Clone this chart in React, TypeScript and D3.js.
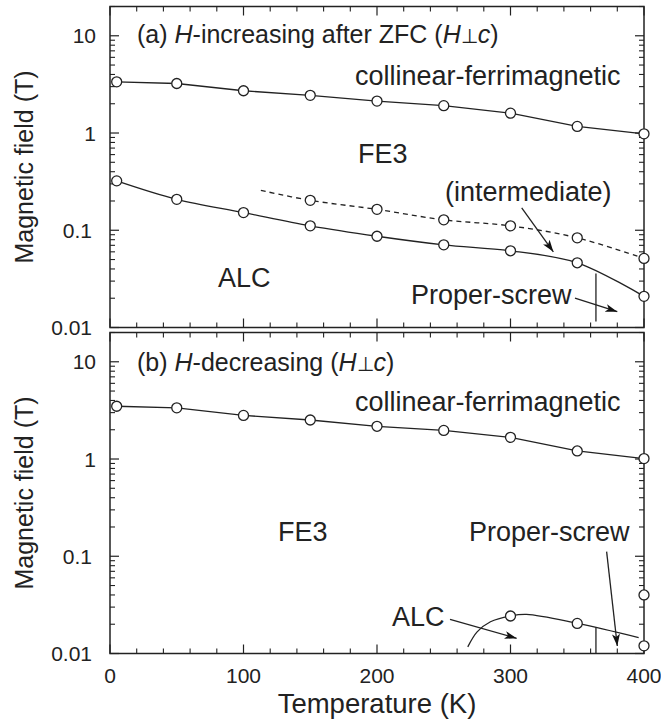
import * as d3 from 'd3'

// temperatures (K) and critical fields (T)
const tempA = [5, 50, 100, 150, 200, 250, 300, 350, 400]
const ferriA = [3.36, 3.23, 2.72, 2.44, 2.13, 1.91, 1.6, 1.17, 0.98]
const alcA = [0.322, 0.208, 0.152, 0.111, 0.0868, 0.0708, 0.0615, 0.0463, 0.0209]
const interT = [113, 150, 200, 250, 300, 350, 400]
const interA = [0.257, 0.203, 0.164, 0.128, 0.111, 0.0836, 0.0513]

const tempB = [5, 50, 100, 150, 200, 250, 300, 350, 400]
const ferriB = [3.49, 3.36, 2.81, 2.52, 2.17, 1.97, 1.67, 1.21, 1.01]
const alcCurveT = [268, 275, 285, 300, 312, 350, 396]
const alcCurveB = [0.0117, 0.0167, 0.0212, 0.0243, 0.0252, 0.0204, 0.0146]
const alcMarkT = [300, 350, 400, 400]
const alcMarkB = [0.0243, 0.0204, 0.012, 0.04]

const xTicks = [0, 100, 200, 300, 400]
const yTicks = [0.01, 0.1, 1, 10]
const yTickLabels = ['0.01', '0.1', '1', '10']

const W = 661
const H = 722
const left = 110
const right = 644
const font = '"Liberation Sans", Arial, Helvetica, sans-serif'

const x = d3.scaleLinear().domain([0, 400]).range([left, right])

type Pt = [number, number]
const zip = (a: number[], b: number[]): Pt[] => a.map((v, i) => [v, b[i]])

function Arrow({ y, from, to }: { y: d3.ScaleLogarithmic<number, number>; from: Pt; to: Pt }) {
  return (
    <line x1={x(from[0])} y1={y(from[1])} x2={x(to[0])} y2={y(to[1])}
      stroke="#222" strokeWidth={1.3} markerEnd="url(#head)" />
  )
}

function Frame({ y, top, bottom }: { y: d3.ScaleLogarithmic<number, number>; top: number; bottom: number }) {
  const minorX = d3.range(0, 401, 20).filter(t => t % 100 !== 0)
  const minorY: number[] = []
  for (const d of [0.01, 0.1, 1, 10]) for (let k = 2; k <= 9; k++) if (d * k <= 20) minorY.push(d * k)
  return (
    <g stroke="#222" fill="none">
      <rect x={left} y={top} width={right - left} height={bottom - top} strokeWidth={1.5} />
      {xTicks.map(t => (
        <g key={'M' + t} strokeWidth={1.2}>
          <line x1={x(t)} x2={x(t)} y1={bottom} y2={bottom - 9} />
          <line x1={x(t)} x2={x(t)} y1={top} y2={top + 9} />
        </g>
      ))}
      {minorX.map(t => (
        <g key={'m' + t} strokeWidth={1.1}>
          <line x1={x(t)} x2={x(t)} y1={bottom} y2={bottom - 5} />
          <line x1={x(t)} x2={x(t)} y1={top} y2={top + 5} />
        </g>
      ))}
      {yTicks.map(v => (
        <g key={'Y' + v} strokeWidth={1.2}>
          <line x1={left} x2={left + 9} y1={y(v)} y2={y(v)} />
          <line x1={right} x2={right - 9} y1={y(v)} y2={y(v)} />
        </g>
      ))}
      {minorY.map(v => (
        <g key={'y' + v} strokeWidth={1.1}>
          <line x1={left} x2={left + 5} y1={y(v)} y2={y(v)} />
          <line x1={right} x2={right - 5} y1={y(v)} y2={y(v)} />
        </g>
      ))}
    </g>
  )
}

function YLabels({ y, top, bottom }: { y: d3.ScaleLogarithmic<number, number>; top: number; bottom: number }) {
  return (
    <g fontFamily={font} fill="#222">
      {yTicks.map((v, i) => (
        <text key={v} x={v < 1 ? 92 : 96} y={y(v)} dy="0.36em" textAnchor="end" fontSize={21}>{yTickLabels[i]}</text>
      ))}
      <text transform={`translate(33,${(top + bottom) / 2}) rotate(-90)`} textAnchor="middle" fontSize={25}>
        Magnetic field (T)
      </text>
    </g>
  )
}

function Marks({ y, pts }: { y: d3.ScaleLogarithmic<number, number>; pts: Pt[] }) {
  return (
    <g fill="#fff" stroke="#222" strokeWidth={1.3}>
      {pts.map((p, i) => <circle key={i} cx={x(p[0])} cy={y(p[1])} r={5} />)}
    </g>
  )
}

export default function App() {
  const topA = 6.5, botA = 327.5
  const topB = 332.5, botB = 653.5
  const yA = d3.scaleLog().domain([0.01, 20]).range([botA, topA])
  const yB = d3.scaleLog().domain([0.01, 20]).range([botB, topB])

  const curve = d3.curveCatmullRom.alpha(0.5)
  const lineA = d3.line<Pt>().x(d => x(d[0])).y(d => yA(d[1])).curve(curve)
  const lineB = d3.line<Pt>().x(d => x(d[0])).y(d => yB(d[1])).curve(curve)
  // the ferrimagnetic boundaries look like straight segments
  const straightA = d3.line<Pt>().x(d => x(d[0])).y(d => yA(d[1]))
  const straightB = d3.line<Pt>().x(d => x(d[0])).y(d => yB(d[1]))

  const ferriPtsA = zip(tempA, ferriA)
  const alcPtsA = zip(tempA, alcA)
  const interPts = zip(interT, interA)
  const ferriPtsB = zip(tempB, ferriB)
  const alcPtsB = zip(alcCurveT, alcCurveB)

  const lbl = { fontFamily: font, fill: '#222', fontSize: 27 }
  const ttl = { fontFamily: font, fill: '#222', fontSize: 25 }

  return (
    <svg width={W} height={H} style={{ position: 'absolute', left: 0, top: 0, background: '#fff' }}>
      <defs>
        <marker id="head" viewBox="0 0 12 8" refX={12} refY={4} markerWidth={12} markerHeight={8}
          markerUnits="userSpaceOnUse" orient="auto">
          <path d="M0,0 L12,4 L0,8 L3,4 Z" fill="#111" />
        </marker>
      </defs>

      {/* panel (a) */}
      <Frame y={yA} top={topA} bottom={botA} />
      <YLabels y={yA} top={topA} bottom={botA} />
      <g fill="none" stroke="#222" strokeWidth={1.3}>
        <path d={straightA(ferriPtsA) ?? ''} />
        <path d={lineA(alcPtsA) ?? ''} />
        <path d={lineA(interPts) ?? ''} strokeDasharray="5,4" />
        <line x1={x(364)} x2={x(364)} y1={yA(0.036)} y2={yA(0.0115)} />
      </g>
      <Marks y={yA} pts={ferriPtsA} />
      <Marks y={yA} pts={alcPtsA} />
      <Marks y={yA} pts={interPts.slice(1)} />
      <Arrow y={yA} from={[308.4, 0.1695]} to={[332.1, 0.0601]} />
      <Arrow y={yA} from={[348.3, 0.02]} to={[380, 0.01454]} />
      <text {...ttl} x={137} y={43}>
        (a) <tspan fontStyle="italic">H</tspan>-increasing after ZFC (<tspan fontStyle="italic">H</tspan>
        <tspan fontSize={20}>⊥</tspan><tspan fontStyle="italic">c</tspan>)
      </text>
      <text {...lbl} x={355} y={85}>collinear-ferrimagnetic</text>
      <text {...lbl} x={358} y={163}>FE3</text>
      <text {...lbl} x={445} y={201}>(intermediate)</text>
      <text {...lbl} x={218} y={287}>ALC</text>
      <text {...lbl} x={411} y={304}>Proper-screw</text>

      {/* panel (b) */}
      <Frame y={yB} top={topB} bottom={botB} />
      <YLabels y={yB} top={topB} bottom={botB} />
      <g fill="none" stroke="#222" strokeWidth={1.3}>
        <path d={straightB(ferriPtsB) ?? ''} />
        <path d={lineB(alcPtsB) ?? ''} />
        <line x1={x(364)} x2={x(364)} y1={yB(0.0186)} y2={yB(0.01)} />
      </g>
      <Marks y={yB} pts={ferriPtsB} />
      <Marks y={yB} pts={zip(alcMarkT, alcMarkB)} />
      <Arrow y={yB} from={[372, 0.1115]} to={[380, 0.01194]} />
      <Arrow y={yB} from={[254.7, 0.0225]} to={[304.6, 0.01433]} />
      <text {...ttl} x={137} y={371}>
        (b) <tspan fontStyle="italic">H</tspan>-decreasing (<tspan fontStyle="italic">H</tspan>
        <tspan fontSize={20}>⊥</tspan><tspan fontStyle="italic">c</tspan>)
      </text>
      <text {...lbl} x={355} y={411}>collinear-ferrimagnetic</text>
      <text {...lbl} x={278} y={541}>FE3</text>
      <text {...lbl} x={469} y={541}>Proper-screw</text>
      <text {...lbl} x={392} y={626}>ALC</text>

      {/* x axis labels */}
      <g fontFamily={font} fill="#222">
        {xTicks.map(t => (
          <text key={t} x={x(t)} y={683} textAnchor="middle" fontSize={21}>{t}</text>
        ))}
        <text x={(left + right) / 2} y={713} textAnchor="middle" fontSize={27.5}>Temperature (K)</text>
      </g>
    </svg>
  )
}
